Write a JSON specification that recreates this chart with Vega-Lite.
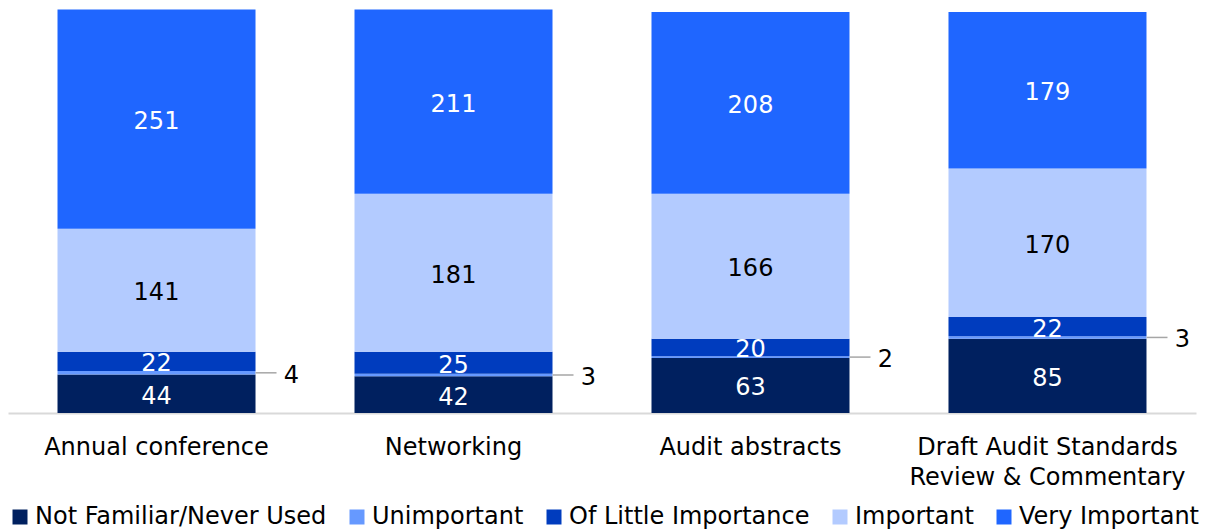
{
  "$schema": "https://vega.github.io/schema/vega-lite/v6.json",
  "width": 1188,
  "height": 404,
  "padding": {"left": 8, "top": 9, "right": 20, "bottom": 118},
  "autosize": {"type": "none"},
  "background": "white",
  "config": {
    "font": "DejaVu Sans",
    "view": {"stroke": null}
  },
  "data": {
    "values": [
      {"cat": "Annual conference", "series": "Not Familiar/Never Used", "k": 1, "value": 44},
      {"cat": "Annual conference", "series": "Unimportant", "k": 2, "value": 4},
      {"cat": "Annual conference", "series": "Of Little Importance", "k": 3, "value": 22},
      {"cat": "Annual conference", "series": "Important", "k": 4, "value": 141},
      {"cat": "Annual conference", "series": "Very Important", "k": 5, "value": 251},
      {"cat": "Networking", "series": "Not Familiar/Never Used", "k": 1, "value": 42},
      {"cat": "Networking", "series": "Unimportant", "k": 2, "value": 3},
      {"cat": "Networking", "series": "Of Little Importance", "k": 3, "value": 25},
      {"cat": "Networking", "series": "Important", "k": 4, "value": 181},
      {"cat": "Networking", "series": "Very Important", "k": 5, "value": 211},
      {"cat": "Audit abstracts", "series": "Not Familiar/Never Used", "k": 1, "value": 63},
      {"cat": "Audit abstracts", "series": "Unimportant", "k": 2, "value": 2},
      {"cat": "Audit abstracts", "series": "Of Little Importance", "k": 3, "value": 20},
      {"cat": "Audit abstracts", "series": "Important", "k": 4, "value": 166},
      {"cat": "Audit abstracts", "series": "Very Important", "k": 5, "value": 208},
      {"cat": "Draft Audit Standards Review & Commentary", "series": "Not Familiar/Never Used", "k": 1, "value": 85},
      {"cat": "Draft Audit Standards Review & Commentary", "series": "Unimportant", "k": 2, "value": 3},
      {"cat": "Draft Audit Standards Review & Commentary", "series": "Of Little Importance", "k": 3, "value": 22},
      {"cat": "Draft Audit Standards Review & Commentary", "series": "Important", "k": 4, "value": 170},
      {"cat": "Draft Audit Standards Review & Commentary", "series": "Very Important", "k": 5, "value": 179}
    ]
  },
  "transform": [
    {"stack": "value", "groupby": ["cat"], "sort": [{"field": "k", "order": "ascending"}], "as": ["y0", "y1"]},
    {"calculate": "(datum.y0 + datum.y1) / 2", "as": "mid"}
  ],
  "encoding": {
    "x": {
      "field": "cat",
      "type": "nominal",
      "sort": null,
      "title": null,
      "scale": {"paddingInner": 0.3333, "paddingOuter": 0.1667},
      "axis": {
        "labelAngle": 0,
        "labelFontSize": 24,
        "labelColor": "#000000",
        "labelPadding": 22,
        "labelLineHeight": 30,
        "labelLimit": 400,
        "ticks": false,
        "domainColor": "#d9d9d9",
        "domainWidth": 2,
        "labelExpr": "datum.label == 'Draft Audit Standards Review & Commentary' ? ['Draft Audit Standards', 'Review & Commentary'] : datum.label"
      }
    },
    "y": {"field": "mid", "type": "quantitative", "scale": {"domain": [0, 462.5], "nice": false, "zero": true}, "axis": null}
  },
  "layer": [
    {
      "mark": {"type": "bar"},
      "encoding": {
        "y": {"field": "y0", "type": "quantitative", "axis": null},
        "y2": {"field": "y1"},
        "color": {
          "field": "series",
          "type": "nominal",
          "scale": {
            "domain": ["Not Familiar/Never Used", "Unimportant", "Of Little Importance", "Important", "Very Important"],
            "range": ["#00205f", "#6699ff", "#003cbe", "#b3cbff", "#1f66ff"]
          },
          "legend": {
            "title": null,
            "orient": "bottom",
            "direction": "horizontal",
            "symbolType": "square",
            "symbolSize": 225,
            "symbolStrokeWidth": 0,
            "labelFontSize": 24,
            "labelColor": "#000000",
            "labelOffset": 3,
            "columnPadding": 18,
            "labelLimit": 400,
            "offset": 16
          }
        }
      }
    },
    {
      "transform": [{"filter": "datum.series != 'Unimportant'"}],
      "mark": {"type": "text", "fontSize": 24, "baseline": "middle", "dy": 3},
      "encoding": {
        "text": {"field": "value", "type": "quantitative"},
        "color": {"condition": {"test": "datum.series == 'Important'", "value": "#000000"}, "value": "#ffffff"}
      }
    },
    {
      "transform": [{"filter": "datum.series == 'Unimportant'"}],
      "mark": {"type": "rule", "strokeWidth": 1.5, "color": "#a6a6a6", "x2Offset": 21},
      "encoding": {
        "x": {"field": "cat", "type": "nominal", "sort": null, "bandPosition": 1},
        "x2": {"field": "cat", "bandPosition": 1}
      }
    },
    {
      "transform": [{"filter": "datum.series == 'Unimportant'"}],
      "mark": {"type": "text", "fontSize": 24, "baseline": "middle", "align": "center", "dx": 36, "dy": 3, "color": "#000000"},
      "encoding": {
        "x": {"field": "cat", "type": "nominal", "sort": null, "bandPosition": 1},
        "text": {"field": "value", "type": "quantitative"}
      }
    }
  ]
}
